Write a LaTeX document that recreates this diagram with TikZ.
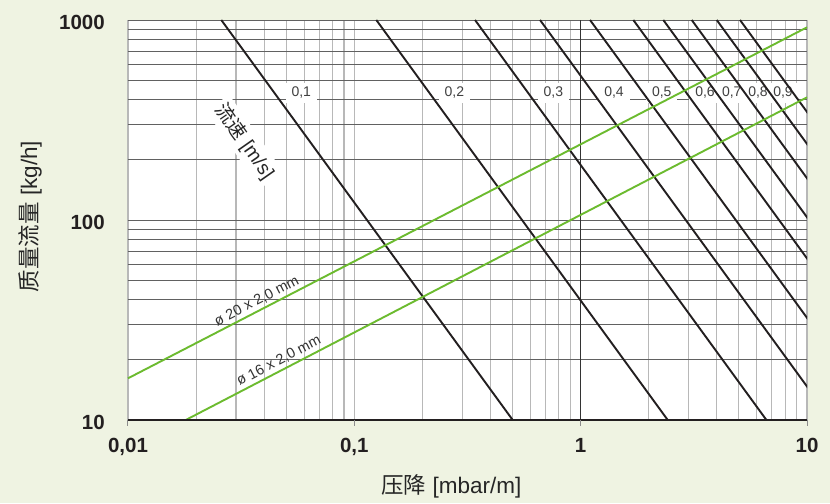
\documentclass[tikz,border=0pt]{standalone}
\usepackage{fontspec}
\setmainfont{Liberation Sans}
\newfontfamily\cjk{Noto Sans CJK SC}
\definecolor{chartbg}{RGB}{239,243,226}
\definecolor{pipegreen}{RGB}{108,187,47}
\definecolor{speedblack}{RGB}{35,31,32}
\begin{document}
\begin{tikzpicture}[x=226.33pt,y=200pt,
  vgrid/.style={color=black!28,line width=1.1pt},
  hgrid/.style={color=black!62,line width=0.7pt},
  speed/.style={color=speedblack,line width=1.9pt},
  pipe/.style={color=pipegreen,line width=1.9pt},
  speedlabel/.style={fill=white,inner xsep=6pt,inner ysep=4pt,text=black!75,font=\fontsize{14}{16}\selectfont},
  pipelabel/.style={above,sloped,inner sep=2.5pt,text=black!80,font=\fontsize{14.5}{16}\selectfont},
  ticklabel/.style={text=speedblack,font=\fontsize{20.5}{24}\selectfont\bfseries},
  axistitle/.style={text=black!85,font=\fontsize{22.5}{26}\selectfont}]
  \fill[chartbg] (-0.5655,-0.415) rectangle (3.1016,2.1);
  \fill[white] (0,0) rectangle (3,2);
  \foreach \d in {0,1,2}
    \foreach \k in {1,...,9}
      \draw[vgrid] ({\d+log10(\k)},0) -- ({\d+log10(\k)},2);
  \draw[vgrid] (3,0) -- (3,2);
  \foreach \d in {0,1}
    \foreach \k in {1,...,9}
      \draw[hgrid] (0,{\d+log10(\k)}) -- (3,{\d+log10(\k)});
  \draw[hgrid] (0,2) -- (3,2);
  \draw[hgrid,color=black!80] (2,0) -- (2,2);
  \node[axistitle,font=\fontsize{19.5}{22}\selectfont,fill=white,rotate=-55,inner sep=4pt] (vtitle) at (0.5156,1.3915) {{\cjk 流速} [m/s]};
  \foreach \xl [count=\i] in {0.7657,1.4418,1.8792,2.1474,2.3582,2.5494,2.6674,2.7836,2.8940}
    \node[speedlabel] (v\i) at (\xl,1.635) {0,\i};
  \begin{scope}
    \clip (0,0) rectangle (3,2);
    \foreach \xt in {0.4122,1.0971,1.5332,1.8204,2.0413,2.2326,2.3651,2.4906,2.6011,2.7040}
      \draw[speed] (\xt,2) -- ++(1.2875,-2);
  \end{scope}
  \draw[pipe] (0,0.2085) -- node[pipelabel,pos=0.196] (d20) {ø 20 x 2,0 mm} (3,1.9635);
  \draw[pipe] (0.255,0) -- node[pipelabel,pos=0.157] (d16) {ø 16 x 2,0 mm} (3,1.6135);
  \draw[line width=1.1pt,color=speedblack] (0,0) -- (3,0);
  \foreach \d in {0,...,3}
    \draw[line width=1pt,color=black!45] (\d,0) -- (\d,-0.03);
  \foreach \d/\t in {0/{0,01},1/{0,1},2/1,3/10}
    \node[ticklabel,anchor=base] (x\d) at (\d,-0.16) {\t};
  \foreach \d/\t in {0/10,1/100,2/1000}
    \node[ticklabel,anchor=base east] (y\d) at (-0.087,\d-0.0465) {\t};
  \node[axistitle] (xtitle) at (1.4291,-0.33) {{\cjk 压降} [mbar/m]};
  \node[axistitle,rotate=90] (ytitle) at (-0.433,1.0175) {{\cjk 质量流量} [kg/h]};
\end{tikzpicture}
\end{document}
